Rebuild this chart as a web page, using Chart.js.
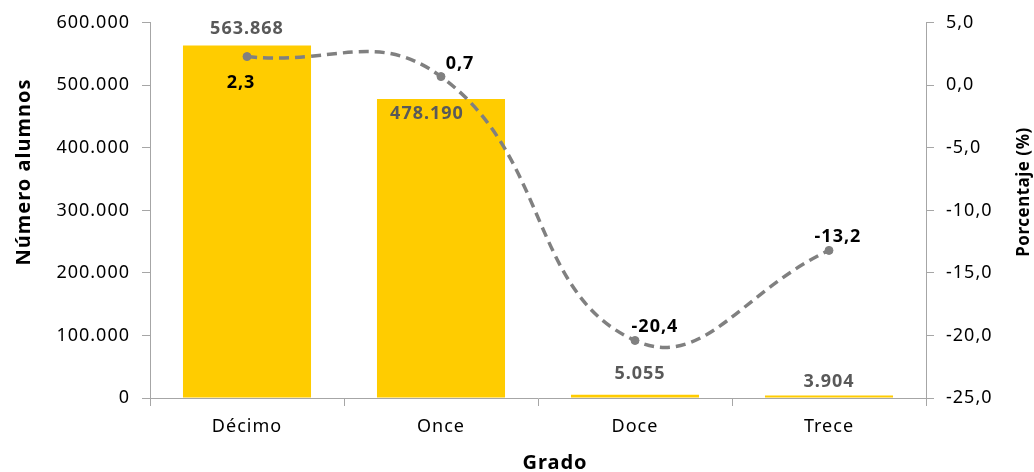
<!DOCTYPE html>
<html>
<head>
<meta charset="utf-8">
<script src="https://cdn.jsdelivr.net/npm/chart.js@4.4.1/dist/chart.umd.min.js"></script>
<style>
    html, body { margin: 0; padding: 0; background: #fff; }
    #wrap { width: 1034px; height: 472px; }
</style>
</head>
<body>
<div id="wrap"><canvas id="gradoChart" width="1034" height="472"></canvas></div>
<script>
// datos
var grados = ["Décimo", "Once", "Doce", "Trece"];
var alumnos = [563868, 478190, 5055, 3904];
var porcentaje = [2.3, 0.7, -20.4, -13.2];

// desplazamiento de las etiquetas [dx, dy] respecto al punto / borde de la barra
var offBarras = [[0, -17], [-14, 15], [5, -21], [0, -14]];
var offLinea = [[-6, 26], [19, -13], [20, -14], [9, -14]];

var fuente = "'Noto Sans', 'DejaVu Sans', sans-serif";
var gris = "#a6a6a6";

function miles(v) {
    return String(Math.round(v)).replace(/\B(?=(\d{3})+(?!\d))/g, ".");
}
function coma(v, d) {
    return v.toFixed(d).replace(".", ",");
}

// espaciado de letras parecido al original
var espaciado = {
    id: "espaciado",
    beforeInit: function (chart) { chart.ctx.letterSpacing = "1px"; },
    beforeUpdate: function (chart) { chart.ctx.letterSpacing = "1px"; },
    beforeDraw: function (chart) { chart.ctx.letterSpacing = "1px"; }
};

function titulo(ctx, texto, x, y, size, girar, sp) {
    ctx.save();
    ctx.translate(x, y);
    if (girar) ctx.rotate(-Math.PI / 2);
    ctx.font = "bold " + size + "px " + fuente;
    ctx.fillStyle = "#000";
    ctx.textAlign = "center";
    ctx.textBaseline = "middle";
    ctx.letterSpacing = sp;
    ctx.fillText(texto, 0, 0);
    ctx.restore();
}

var etiquetas = {
    id: "etiquetas",
    afterDatasetsDraw: function (chart) {
        var ctx = chart.ctx;
        ctx.save();
        ctx.textAlign = "center";
        ctx.textBaseline = "middle";
        ctx.letterSpacing = "1px";
        var mb = chart.getDatasetMeta(1);
        ctx.font = "bold 18px " + fuente;
        ctx.fillStyle = "#595959";
        mb.data.forEach(function (el, i) {
            ctx.fillText(miles(alumnos[i]), el.x + offBarras[i][0], el.y + offBarras[i][1]);
        });
        var ml = chart.getDatasetMeta(0);
        ctx.fillStyle = "#000";
        ml.data.forEach(function (el, i) {
            ctx.fillText(coma(porcentaje[i], 1), el.x + offLinea[i][0], el.y + offLinea[i][1]);
        });
        ctx.restore();

        // titulos de los ejes
        titulo(ctx, "Número alumnos", 24, 172, 20, true, "1px");
        titulo(ctx, "Porcentaje (%)", 1024, 192, 17, true, "0.5px");
        titulo(ctx, "Grado", 555, 463, 20, false, "1px");
    }
};

var ctx = document.getElementById("gradoChart").getContext("2d");
var chart = new Chart(ctx, {
    type: "bar",
    data: {
        labels: grados,
        datasets: [
            {
                type: "line",
                label: "Porcentaje",
                data: porcentaje,
                yAxisID: "y1",
                order: 0,
                borderColor: "#808080",
                borderWidth: 3.5,
                borderDash: [10, 6],
                tension: 0.45,
                pointRadius: 4,
                pointBorderWidth: 1,
                pointBackgroundColor: "#808080",
                pointBorderColor: "#808080",
                fill: false
            },
            {
                label: "Alumnos",
                data: alumnos,
                yAxisID: "y",
                order: 1,
                backgroundColor: "#ffcc00",
                categoryPercentage: 0.66,
                barPercentage: 1
            }
        ]
    },
    options: {
        responsive: false,
        animation: false,
        layout: { padding: { top: 20, left: 8, right: 0, bottom: 0 } },
        plugins: {
            legend: { display: false },
            tooltip: { enabled: false }
        },
        scales: {
            x: {
                offset: true,
                grid: { offset: true, drawOnChartArea: false, color: gris, tickLength: 8 },
                border: { color: gris },
                ticks: { color: "#000", font: { family: fuente, size: 18 }, padding: 10 },
                title: { display: false },
                afterFit: function (s) { s.height = 74; }
            },
            y: {
                position: "left",
                min: 0,
                max: 600000,
                ticks: {
                    stepSize: 100000,
                    color: "#000",
                    font: { family: fuente, size: 18 },
                    padding: 12,
                    callback: function (v) { return miles(v); }
                },
                grid: { drawOnChartArea: false, color: gris, tickLength: 8 },
                border: { color: gris },
                title: { display: false },
                afterFit: function (s) { s.width = 142; }
            },
            y1: {
                position: "right",
                min: -25,
                max: 5,
                ticks: {
                    stepSize: 5,
                    color: "#000",
                    font: { family: fuente, size: 18 },
                    padding: 12,
                    callback: function (v) { return coma(v, 1); }
                },
                grid: { drawOnChartArea: false, color: gris, tickLength: 8 },
                border: { color: gris },
                title: { display: false },
                afterFit: function (s) { s.width = 108; }
            }
        }
    },
    plugins: [espaciado, etiquetas]
});
</script>
</body>
</html>
